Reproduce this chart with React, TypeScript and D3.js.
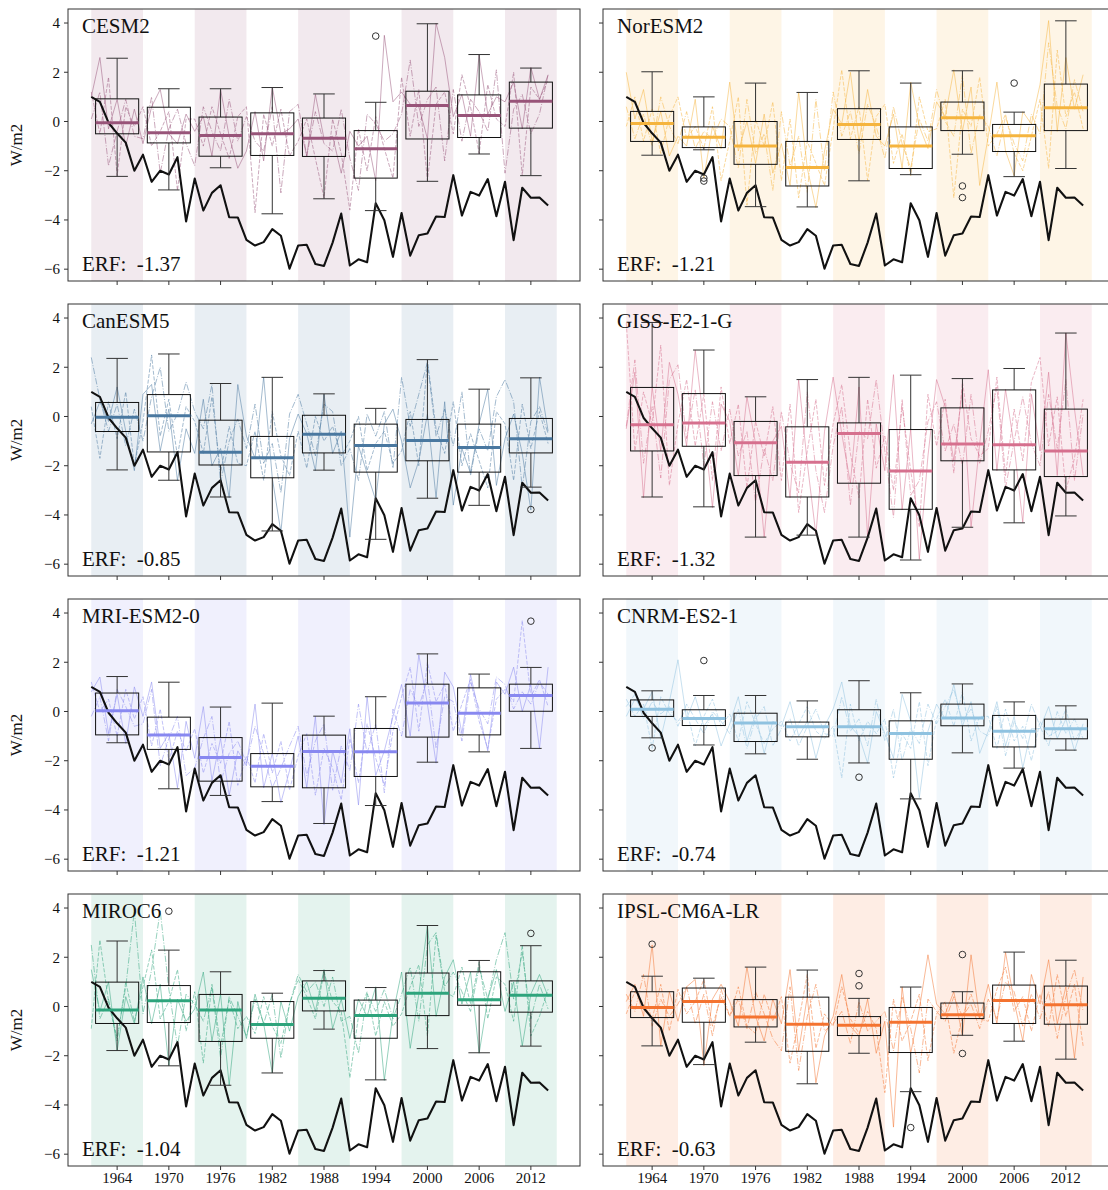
import * as d3 from 'd3'
import React from 'react'

const years = d3.range(1961, 2015)
const tickYears = [1964, 1970, 1976, 1982, 1988, 1994, 2000, 2006, 2012]
const bandStarts = [1961, 1973, 1985, 1997, 2009]
const yTicks = [4, 2, 0, -2, -4, -6]

// observed black line, 1961-2014
const observed = [
  1.0, 0.8, -0.05, -0.48, -0.86, -2.0, -1.35, -2.45, -2.0, -2.15, -1.45, -4.06, -2.32, -3.62, -2.9, -2.59, -3.89, -3.9,
  -4.81, -5.04, -4.9, -4.37, -4.64, -5.98, -5.04, -5.01, -5.79, -5.87, -4.92, -3.74, -5.85, -5.6, -5.72, -3.32, -4.01, -5.5,
  -3.72, -5.45, -4.62, -4.55, -3.86, -3.88, -2.18, -3.82, -2.86, -3.01, -2.34, -3.85, -2.45, -4.82, -2.69, -3.1, -3.09, -3.41,
]

// box stats per 6-year period: [whisker low, q1, median, q3, whisker high]
const cesm2Boxes = [
  [-2.23, -0.5, -0.05, 0.92, 2.57], [-2.78, -0.87, -0.46, 0.58, 1.33], [-1.88, -1.41, -0.57, 0.18, 1.33],
  [-3.75, -1.38, -0.5, 0.35, 1.38], [-3.14, -1.42, -0.68, 0.14, 1.12], [-3.62, -2.3, -1.11, -0.37, 0.78],
  [-2.43, -0.71, 0.65, 1.23, 3.97], [-1.32, -0.65, 0.24, 1.08, 2.72], [-2.2, -0.27, 0.82, 1.6, 2.17],
]
const cesm2Fliers = [[5, 3.47]]
const cesm2Members = [
  [1.0, 2.6, -0.3, 0.9, -1.0, 0.5, -0.9, 0.6, 1.3, -0.5, -0.9, 0.3, -0.4, 0.2, -1.4, 1.3, -0.6, -1.9, -1.2, 0.4, -1.6, 1.4, -0.5, -0.3, 0.1, -1.4, 1.1, -0.7, -0.6, -2.1, -0.4, -1.0, -0.6, -2.4, 3.5, 0.8, 1.2, 0.7, 0.6, -0.7, 4.0, 2.6, 0.2, 1.1, -0.6, 2.7, 0.3, 1.0, 0.8, 1.6, -0.3, 2.2, 0.9, 1.9],
  [1.2, -0.5, 1.8, -2.2, 0.6, -0.2, 0.6, -1.0, -0.4, 0.4, -2.8, 0.1, 0.1, -1.0, 0.6, -0.5, -1.5, 0.2, 0.6, -3.7, 0.3, -1.0, 0.5, -1.4, -0.8, 0.1, -1.5, -3.1, 0.1, -1.3, -3.6, -0.3, -2.0, 0.2, -1.1, -2.3, 1.8, -0.6, 1.3, -2.4, 0.7, 1.2, -0.5, 1.9, 0.6, -1.3, 1.5, 0.1, -0.2, 2.0, -2.2, 1.4, 0.9, 1.7],
  [0.1, 1.2, -1.8, -0.4, 0.9, -0.6, -0.7, 1.0, -2.1, -0.3, 0.5, -0.9, -1.8, 0.6, -0.4, -1.2, 0.9, -0.8, 0.2, -0.8, -1.2, 0.6, -2.9, 0.4, 0.7, -1.4, 0.4, -0.9, -1.2, 0.5, -1.5, -2.8, 0.3, -0.1, -0.8, -0.5, 0.3, 2.5, -0.2, 0.9, 1.4, -1.6, 1.3, -0.8, 0.9, 0.4, -0.4, 2.1, -2.1, 0.5, 1.1, -0.5, 0.3, 1.9],
]

const norBoxes = [
  [-1.37, -0.81, -0.08, 0.41, 2.02], [-1.15, -1.06, -0.64, -0.22, 1.0], [-3.46, -1.74, -1.0, 0.0, 1.56],
  [-3.47, -2.62, -1.87, -0.81, 1.18], [-2.41, -0.73, -0.12, 0.52, 2.06], [-2.16, -1.91, -1.0, -0.22, 1.56],
  [-1.33, -0.37, 0.15, 0.79, 2.06], [-2.24, -1.22, -0.58, -0.12, 0.38], [-1.91, -0.37, 0.56, 1.52, 4.09],
]
const norFliers = [[1, -2.3], [1, -2.42], [6, -2.62], [6, -3.09], [7, 1.56]]
const norMembers = [
  [2.0, 0.1, 1.3, -0.8, 0.4, -1.4, -0.6, -1.0, 0.9, -2.3, -0.2, -1.1, 1.6, -1.2, 0.0, -1.7, 0.3, -2.1, -0.9, -2.6, 1.2, -1.9, -3.5, -1.2, 0.5, -0.1, 2.0, -0.8, 1.3, -0.6, -1.0, 0.3, -1.9, 1.6, -0.2, -1.1, 0.8, 0.2, 2.1, -0.4, 1.4, -2.6, -0.6, 1.6, -1.2, -2.2, 0.4, -0.1, 1.5, 4.1, -0.4, 2.6, 0.5, 1.9],
  [-0.2, 1.0, -0.8, 0.5, -1.3, 0.2, 1.0, -0.7, -0.2, -1.1, 0.6, -2.4, -0.8, 1.0, -3.4, 0.1, -1.0, 0.8, -2.4, 0.1, -3.1, -0.8, -1.7, -2.6, -0.3, 2.1, -0.7, 0.6, -2.4, 0.2, 0.7, -1.7, -0.5, -2.2, 1.0, -0.4, -0.3, 0.9, -3.1, 0.5, -0.2, 1.8, -1.0, -0.5, 0.3, -1.3, -2.0, -0.6, 0.9, -1.9, 2.9, 0.2, 1.2, -0.3],
  [0.6, -0.7, 0.3, -1.0, 1.0, -0.2, -0.9, 0.4, -1.1, -0.4, -0.7, 0.1, -0.2, -1.9, 0.9, -1.3, -0.5, -2.8, 0.4, -1.8, -0.6, -2.9, 0.9, -2.0, 1.2, -0.6, 0.4, -1.3, 0.7, -0.2, -1.5, 0.6, -0.9, -1.9, 0.1, -0.8, 1.3, 0.0, -0.6, 1.9, -1.3, 0.3, -0.2, -1.4, 0.2, -0.9, -1.6, 0.3, -0.5, 3.2, 0.6, -0.3, 1.7, 0.4],
]

const canBoxes = [
  [-2.17, -0.61, -0.03, 0.57, 2.36], [-2.59, -1.44, 0.03, 0.89, 2.54], [-3.27, -1.97, -1.45, -0.15, 1.34],
  [-4.65, -2.49, -1.68, -0.81, 1.59], [-2.18, -1.48, -0.72, 0.05, 0.92], [-4.99, -2.26, -1.18, -0.31, 0.33],
  [-3.32, -1.8, -0.98, -0.12, 2.31], [-3.61, -2.26, -1.26, -0.31, 1.11], [-2.87, -1.48, -0.9, -0.08, 1.57],
]
const canFliers = [[8, -3.78]]
const canMembers = [
  [-0.3, 0.6, -0.2, 1.2, -0.6, -2.2, 0.9, 1.3, -1.4, 0.3, -2.6, -0.5, -1.5, 0.7, -2.0, -1.3, -3.3, 1.3, -0.8, -1.7, 1.6, -2.5, -4.7, -0.9, 0.1, -0.7, -2.2, 0.9, -1.5, -0.6, -4.9, -1.2, -2.3, -3.4, -0.3, 0.3, -1.0, -2.9, -1.8, 0.1, -3.3, 0.6, -3.6, -1.3, -2.3, -0.3, 1.1, -2.8, -0.9, 0.1, -1.5, -3.8, 1.6, -0.6],
  [0.4, -1.7, 0.6, -0.9, 1.0, -2.0, -0.2, 2.5, -0.8, 0.7, -1.6, 0.4, -0.2, -1.5, 0.8, -2.3, -0.4, -1.9, -2.0, -0.6, -2.6, 0.2, -1.6, -2.4, -0.6, -2.1, 0.0, -1.0, -0.4, -1.6, -1.0, 0.0, -2.2, -1.1, -0.6, -1.9, -1.4, 0.2, -2.0, 2.3, -0.5, -1.5, 0.6, -2.0, -0.7, -1.8, -2.9, 0.2, -0.3, -2.6, 0.5, -1.3, 0.2, -1.1],
  [2.4, 0.7, -0.6, 0.5, -1.2, 0.3, -1.0, 0.8, 2.0, -0.6, 0.1, 1.4, 0.2, -0.5, 1.3, -2.7, -1.0, -0.1, -1.3, 0.5, -1.9, -1.1, -3.1, 0.1, 0.9, -0.3, -1.6, 0.5, 0.2, -2.0, -1.3, -2.6, 0.1, -0.8, 0.2, -2.1, 1.6, -0.4, 0.9, 2.2, -0.8, 0.3, -1.2, 1.0, -2.4, -0.5, -1.4, 0.8, 1.5, 0.6, -2.9, -0.2, 0.4, -0.7],
]

const gissBoxes = [
  [-3.27, -1.4, -0.34, 1.18, 3.82], [-3.67, -1.21, -0.26, 0.93, 2.7], [-4.9, -2.4, -1.07, -0.2, 0.8],
  [-4.82, -3.27, -1.86, -0.42, 1.5], [-4.9, -2.71, -0.69, -0.26, 1.59], [-5.83, -3.77, -2.21, -0.53, 1.68],
  [-4.5, -1.8, -1.12, 0.35, 1.54], [-4.32, -2.17, -1.15, 1.08, 1.95], [-4.04, -2.44, -1.4, 0.3, 3.39],
]
const gissFliers: number[][] = []
const gissMembers = [
  [-0.5, 1.8, -3.3, 1.2, -1.4, 2.2, 0.9, -1.2, 2.7, -0.3, -3.7, 0.5, -0.2, -2.4, 0.8, -1.1, -4.9, -1.0, -0.4, -3.3, 1.5, -1.9, -4.8, -0.6, 1.6, -0.7, -2.7, 1.2, -4.9, -0.3, -2.2, 1.7, -3.8, -0.5, -5.8, -1.6, 1.5, 0.4, -1.8, 1.1, -4.5, -1.1, 1.9, -2.2, 1.1, -1.2, -4.3, 0.9, -1.4, 1.8, -2.4, 3.4, 0.3, -2.4],
  [3.8, -1.4, 1.0, -0.3, 2.9, -2.8, -0.3, 1.5, -1.2, 0.9, -2.6, 1.2, -1.1, 0.5, -2.9, -0.2, -1.6, 0.4, -2.6, 0.5, -3.9, -1.4, 0.7, -2.8, -0.3, 1.3, -1.5, -3.3, 0.7, -2.1, -0.8, -3.0, 0.4, -2.2, -4.5, 0.9, -1.2, 0.7, -2.3, 1.4, -0.9, -1.6, -1.3, 1.6, -2.4, 0.3, -1.8, 1.4, 2.4, -1.2, 0.8, -3.0, -1.7, 0.7],
  [-0.4, 2.3, -1.9, 0.4, -2.5, 1.5, 2.1, -0.9, 1.1, -2.0, 0.6, -1.4, 0.3, -1.6, -0.6, -3.5, -1.3, -2.6, 0.2, -1.9, -3.1, 1.0, -2.2, -3.9, -1.2, 0.4, -3.6, -0.6, -0.9, 1.5, -1.4, -4.1, 0.7, -3.2, -2.6, -0.2, 0.6, -1.4, -0.3, -2.0, 0.9, -1.9, -0.6, 1.2, -2.9, -1.0, 0.8, -1.1, -2.0, 0.9, -1.3, 1.5, -2.6, 0.1],
]

const mriBoxes = [
  [-1.27, -0.95, 0.03, 0.75, 1.42], [-3.14, -1.54, -0.96, -0.23, 1.19], [-3.41, -2.83, -1.87, -1.06, 0.18],
  [-3.66, -3.06, -2.22, -1.71, 0.34], [-4.55, -3.1, -1.63, -0.96, -0.19], [-3.82, -2.64, -1.64, -0.69, 0.6],
  [-2.06, -1.04, 0.34, 1.11, 2.34], [-1.64, -0.95, -0.07, 0.96, 1.52], [-1.5, 0.01, 0.65, 1.11, 1.79],
]
const mriFliers = [[8, 3.67]]
const mriMembers = [
  [0.8, 1.4, -0.9, 0.7, -1.3, 1.0, -0.2, 1.2, -1.5, -0.9, -3.1, -0.4, -1.9, 0.2, -2.8, -1.1, -3.4, -1.6, -2.2, 0.3, -3.1, -1.7, -3.7, -2.4, -1.0, -3.1, -0.2, -4.6, -1.6, -2.9, -0.7, -3.8, 0.6, -2.6, -1.6, -0.2, 1.1, -1.0, 2.3, 0.3, -2.1, 1.6, 1.0, -0.9, 1.5, -0.1, -1.6, 1.2, 0.7, 1.8, 0.0, 1.1, -1.5, 1.8],
  [1.2, 0.0, 0.5, -1.0, 0.9, -0.3, 0.6, -1.4, 0.1, -2.0, -0.8, -1.6, -0.7, -2.5, -1.3, -2.1, -0.4, -3.0, -1.8, -2.9, -0.9, -2.5, -1.2, -3.2, -1.8, -0.9, -3.4, -1.5, -2.3, -3.6, -1.1, -2.9, -0.5, -1.9, -3.0, -0.8, 0.6, 1.8, -0.8, 2.0, 0.4, 1.1, -0.8, 0.3, 1.3, -0.4, -1.5, 0.5, 0.9, 0.4, 3.7, 0.6, 1.3, 0.2],
  [-0.2, 0.6, -1.2, 0.9, 0.2, -0.6, -0.5, 0.9, -2.2, -1.1, -0.2, -2.6, -2.3, -1.1, -0.2, -2.9, -1.7, -1.2, -2.1, -0.6, -1.7, -3.1, -2.3, -1.4, -0.6, -2.6, -1.2, -0.5, -3.2, -1.4, -2.4, 0.3, -1.7, -0.5, -3.3, 0.1, -1.0, 0.9, 0.2, 1.3, -1.5, 0.6, 0.4, -1.2, 1.2, 0.1, -0.5, 1.4, 1.1, 0.1, 0.8, 0.3, 1.2, 0.7],
]

const cnrmBoxes = [
  [-1.07, -0.2, 0.09, 0.47, 0.84], [-1.36, -0.57, -0.28, 0.07, 0.65], [-1.72, -1.22, -0.47, -0.07, 0.65],
  [-1.94, -1.03, -0.62, -0.43, 0.43], [-2.09, -0.99, -0.62, 0.07, 1.25], [-3.55, -1.94, -0.89, -0.38, 0.76],
  [-1.68, -0.58, -0.26, 0.3, 1.12], [-2.3, -1.44, -0.8, -0.16, 0.39], [-1.57, -1.11, -0.7, -0.31, 0.23],
]
const cnrmFliers = [[0, -1.48], [1, 2.07], [4, -2.67]]
const cnrmMembers = [
  [-0.2, 0.5, 0.1, 0.8, -1.1, 0.4, 2.1, -0.3, 0.6, -0.6, -0.1, -1.4, -0.5, 0.6, -1.2, -0.1, -1.7, -0.4, -0.6, 0.4, -1.0, -0.4, -1.9, -0.6, 0.1, 1.2, -0.6, -1.0, -2.1, 0.0, -0.9, -1.9, 0.7, -0.4, -3.5, -0.8, 0.3, -0.3, 1.1, -0.6, 0.4, -1.7, -0.8, 0.4, -1.4, -0.2, -2.3, -0.7, -0.7, 0.2, -1.1, -0.3, -1.6, -0.5],
  [0.5, -0.2, 0.3, -1.5, 0.6, -0.1, -0.4, 0.1, -1.4, -0.2, 0.5, -0.6, -0.1, -1.2, 0.4, -0.5, -1.3, -0.7, -0.4, -1.2, -0.5, 0.2, -0.8, -1.1, -0.6, -2.7, 0.3, -1.2, -0.4, -0.9, -0.3, -2.7, -0.9, -1.5, 0.4, -2.2, -0.3, 0.5, -0.6, 0.8, -1.2, -0.2, -0.2, -1.5, 0.1, -1.2, -0.6, -2.0, -0.4, -1.0, -0.8, 0.1, -1.2, -0.6],
  [0.2, 0.7, -0.3, 0.4, -0.1, 0.2, -0.6, 0.3, -0.3, -0.9, 0.0, -0.4, -0.9, 0.1, -1.5, -0.3, 0.2, -1.4, -0.7, -0.3, -1.4, -0.6, 0.1, -0.9, -1.0, 0.6, -0.8, -0.3, -1.4, 0.5, -1.2, 0.1, -2.0, -0.7, -1.3, 0.3, -0.5, 0.2, 0.9, -0.4, 0.1, -0.8, -1.0, 0.2, -1.8, -0.4, -1.1, 0.3, -0.6, -1.4, 0.0, -0.9, -0.3, -1.1],
]

const mirocBoxes = [
  [-1.79, -0.69, -0.14, 0.99, 2.66], [-2.41, -0.65, 0.23, 0.85, 2.29], [-3.2, -1.42, -0.14, 0.49, 1.41],
  [-2.7, -1.29, -0.73, 0.2, 0.54], [-0.92, -0.18, 0.33, 1.04, 1.46], [-2.98, -1.29, -0.37, 0.26, 0.77],
  [-1.71, -0.37, 0.54, 1.36, 3.29], [-1.88, 0.05, 0.27, 1.41, 1.87], [-1.61, -0.23, 0.46, 1.04, 2.47],
]
const mirocFliers = [[1, 3.87], [8, 2.97]]
const mirocMembers = [
  [1.5, -0.2, 1.0, -1.8, 0.4, -0.7, 1.2, -0.7, 0.9, -2.4, 0.3, -0.6, -0.1, 1.4, -1.4, 0.5, -3.2, 0.2, -1.3, 0.5, -0.7, -2.7, 0.2, -1.0, 0.4, 1.0, -0.2, 1.5, -0.9, 0.3, -1.3, 0.3, -0.4, 0.8, -3.0, -0.3, 1.4, -1.7, 0.5, 3.3, -0.4, 1.2, 1.9, 0.1, 1.4, -1.9, 0.3, 1.5, -0.2, 1.0, -1.6, 0.5, 1.3, 0.4],
  [-0.9, 2.7, 0.2, -1.4, 1.0, -0.6, 0.8, 2.3, -0.5, 0.2, 1.5, -1.0, 0.6, -2.3, 0.9, -1.6, 0.3, -0.9, -0.4, -1.1, 0.4, -0.8, -1.5, 0.1, 1.1, 0.4, -0.5, 1.4, 0.2, -0.2, -2.9, -0.4, 0.6, -1.2, 0.2, -0.8, -0.3, 0.8, 1.7, -1.2, 2.9, 0.6, 0.4, 1.6, 0.1, 1.8, -0.5, 1.2, 0.9, -0.6, 2.5, -1.2, -0.4, 0.7],
  [2.5, -0.5, 0.3, -1.3, 0.8, 3.9, -0.3, 1.5, 3.9, 0.7, -1.6, 0.5, 0.1, -0.6, 0.8, -2.1, 0.4, -0.4, -1.2, 0.3, -0.7, 0.5, -2.1, 0.1, 1.3, 0.6, 1.0, 0.0, 1.2, -0.6, -0.4, -1.9, 0.5, -0.2, 0.7, -0.5, 0.5, 1.6, -0.6, 2.5, 3.0, 0.8, 1.4, 0.6, -0.2, 1.6, 0.3, 1.9, 3.0, 0.3, 2.2, -0.5, 0.9, -0.1],
]

const ipslBoxes = [
  [-1.6, -0.45, -0.04, 0.6, 1.23], [-2.36, -0.64, 0.2, 0.75, 1.15], [-1.45, -0.83, -0.43, 0.28, 1.6],
  [-3.14, -1.82, -0.72, 0.38, 1.48], [-1.9, -1.18, -0.76, -0.41, 0.33], [-3.46, -1.87, -0.64, -0.04, 0.79],
  [-1.17, -0.49, -0.34, 0.14, 0.6], [-1.41, -0.69, 0.24, 0.87, 2.21], [-2.14, -0.72, 0.07, 0.83, 1.88],
]
const ipslFliers = [[0, 2.53], [4, 1.34], [4, 0.84], [5, -4.92], [6, 2.11], [6, -1.91]]
const ipslMembers = [
  [0.2, 0.9, -0.4, 2.5, -1.6, 0.6, -0.6, 0.8, 1.1, -2.4, 0.3, 0.9, 0.2, -0.8, 1.6, -0.4, -1.4, 0.3, -0.7, 1.5, -1.8, 0.4, -3.1, -1.2, -0.4, 1.3, -0.8, -1.2, 0.3, -1.9, -0.6, -4.9, 0.8, -1.9, -0.1, 2.1, 0.1, -0.3, 0.6, -1.2, 2.1, -0.5, 0.9, -0.7, 2.2, 0.2, -1.4, 1.3, 0.1, 1.9, -0.7, 0.8, -2.1, 1.2],
  [-0.3, 0.6, 0.1, -0.5, 0.9, -1.0, 0.7, -0.3, 0.2, 1.1, -0.8, 0.4, -0.4, 0.8, -0.8, -1.1, 0.5, -0.6, 0.4, -2.3, -0.6, 1.3, -1.7, -0.3, -0.8, 0.8, -0.5, -1.1, -0.2, -0.9, -3.5, 0.3, -1.4, -0.6, 0.5, -2.2, -0.3, 0.2, -1.9, -0.4, 0.5, -0.5, -0.6, 0.7, 1.6, -0.2, 0.4, -1.0, 0.5, -0.8, 1.3, -0.4, 0.9, -1.6],
  [0.5, -0.2, 1.3, -0.8, 0.3, -0.4, 0.1, 0.8, -0.7, 0.5, -1.2, 0.7, -0.4, 0.3, -0.9, 0.6, -0.3, -1.3, -1.8, 0.8, -2.6, -0.4, 0.9, -1.0, -0.7, -0.2, -1.5, 0.2, -1.0, -0.6, -0.2, -1.8, 0.4, -0.9, -2.7, 0.3, -0.2, -0.6, 0.4, -0.4, 0.1, -0.9, 0.3, -0.5, 1.0, 0.6, -0.8, 0.5, -0.5, 0.6, -1.3, 0.4, 1.5, -0.2],
]

const models = [
  { name: 'CESM2', erf: '-1.37', color: '#985479', members: cesm2Members, boxes: cesm2Boxes, fliers: cesm2Fliers },
  { name: 'NorESM2', erf: '-1.21', color: '#f5b43e', members: norMembers, boxes: norBoxes, fliers: norFliers },
  { name: 'CanESM5', erf: '-0.85', color: '#4a78a0', members: canMembers, boxes: canBoxes, fliers: canFliers },
  { name: 'GISS-E2-1-G', erf: '-1.32', color: '#d6708e', members: gissMembers, boxes: gissBoxes, fliers: gissFliers },
  { name: 'MRI-ESM2-0', erf: '-1.21', color: '#8888f0', members: mriMembers, boxes: mriBoxes, fliers: mriFliers },
  { name: 'CNRM-ES2-1', erf: '-0.74', color: '#8fc2e0', members: cnrmMembers, boxes: cnrmBoxes, fliers: cnrmFliers },
  { name: 'MIROC6', erf: '-1.04', color: '#2ea47c', members: mirocMembers, boxes: mirocBoxes, fliers: mirocFliers },
  { name: 'IPSL-CM6A-LR', erf: '-0.63', color: '#f47330', members: ipslMembers, boxes: ipslBoxes, fliers: ipslFliers },
]

const W = 1108
const H = 1190
const panelW = 512
const panelH = 272
const lefts = [68, 603]
const tops = [9, 304, 599, 894]
const dashes = [null, '4,1.6', '6.4,1.6,1,1.6']
const font = '"Liberation Serif", "DejaVu Serif", serif'

function Panel({ m, left, top, row, col }: any) {
  const x = d3.scaleLinear().domain([1958.3, 2017.7]).range([left, left + panelW])
  const y = d3.scaleLinear().domain([-6.48, 4.57]).range([top + panelH, top])
  const line = d3.line<number>().x((d, i) => x(years[i])).y(d => y(d))
  const bottom = top + panelH
  const halfBox = 2.5
  const halfCap = 1.25
  return (
    <g>
      {bandStarts.map(b => (
        <rect key={b} x={x(b)} y={top} width={x(b + 6) - x(b)} height={panelH} fill={m.color} fillOpacity={0.13} />
      ))}
      {m.members.map((s: number[], i: number) => (
        <path key={i} d={line(s) || ''} fill="none" stroke={m.color} strokeOpacity={0.5} strokeWidth={1}
          strokeDasharray={dashes[i] || undefined} />
      ))}
      <path d={line(observed) || ''} fill="none" stroke="#111" strokeWidth={2.1} strokeLinejoin="round" />
      {m.boxes.map((b: number[], i: number) => {
        const c = tickYears[i]
        const [lo, q1, med, q3, hi] = b
        return (
          <g key={i}>
            <line x1={x(c)} x2={x(c)} y1={y(q3)} y2={y(hi)} stroke="#333" />
            <line x1={x(c)} x2={x(c)} y1={y(q1)} y2={y(lo)} stroke="#333" />
            <line x1={x(c - halfCap)} x2={x(c + halfCap)} y1={y(hi)} y2={y(hi)} stroke="#333" />
            <line x1={x(c - halfCap)} x2={x(c + halfCap)} y1={y(lo)} y2={y(lo)} stroke="#333" />
            <rect x={x(c - halfBox)} y={y(q3)} width={x(c + halfBox) - x(c - halfBox)} height={y(q1) - y(q3)}
              fill="none" stroke="#111" />
            <line x1={x(c - halfBox)} x2={x(c + halfBox)} y1={y(med)} y2={y(med)} stroke={m.color} strokeWidth={3} />
          </g>
        )
      })}
      {m.fliers.map((f: number[], i: number) => (
        <circle key={i} cx={x(tickYears[f[0]])} cy={y(f[1])} r={3.3} fill="none" stroke="#333" strokeWidth={1} />
      ))}
      <rect x={left} y={top} width={panelW} height={panelH} fill="none" stroke="#333" strokeWidth={1} />
      {tickYears.map(t => (
        <g key={t}>
          <line x1={x(t)} x2={x(t)} y1={bottom} y2={bottom + 4} stroke="#333" />
          {row === 3 && (
            <text x={x(t)} y={bottom + 17} textAnchor="middle" fontSize={15} fontFamily={font} fill="#111">{t}</text>
          )}
        </g>
      ))}
      {yTicks.map(t => (
        <g key={t}>
          <line x1={left - 4} x2={left} y1={y(t)} y2={y(t)} stroke="#333" />
          {col === 0 && (
            <text x={left - 8} y={y(t)} dy="0.35em" textAnchor="end" fontSize={15} fontFamily={font} fill="#111">
              {t < 0 ? '\u2212' + Math.abs(t) : t}
            </text>
          )}
        </g>
      ))}
      {col === 0 && (
        <text transform={`translate(22,${top + panelH / 2}) rotate(-90)`} textAnchor="middle" fontSize={17}
          fontFamily={font} fill="#111">W/m2</text>
      )}
      <text x={left + 14} y={top + 24} fontSize={21} fontFamily={font} fill="#111">{m.name}</text>
      <text x={left + 14} y={bottom - 10} fontSize={21} fontFamily={font} fill="#111" style={{ whiteSpace: 'pre' }}>
        {'ERF:  ' + m.erf}
      </text>
    </g>
  )
}

export default function App() {
  return (
    <svg width={W} height={H} style={{ position: 'absolute', left: 0, top: 0, background: '#fff' }}>
      <rect width={W} height={H} fill="#fff" />
      {models.map((m, i) => {
        const row = Math.floor(i / 2)
        const col = i % 2
        return <Panel key={m.name} m={m} left={lefts[col]} top={tops[row]} row={row} col={col} />
      })}
    </svg>
  )
}
